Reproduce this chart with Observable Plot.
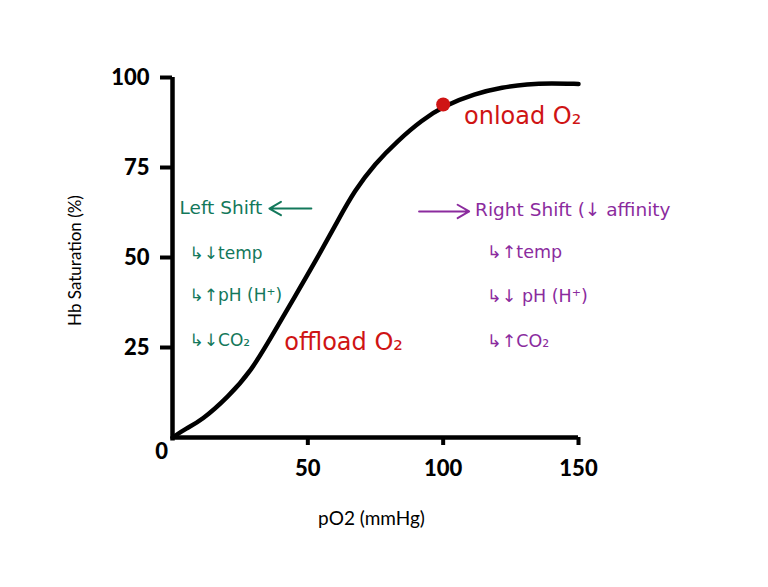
<!DOCTYPE html>
<html>
<head>
<meta charset="utf-8">
<script src="https://cdn.jsdelivr.net/npm/d3@7"></script>
<script src="https://cdn.jsdelivr.net/npm/@observablehq/plot@0.6"></script>
<style>
  html, body { margin: 0; padding: 0; background: #fff; }
  #chart svg { display: block; }
</style>
</head>
<body>
<div id="chart"></div>
<script>
// Oxygen–hemoglobin dissociation curve
const po2 = [0, 5, 10.7, 20.5, 29.2, 36.5, 45.1, 53.7, 61.1, 67.3, 74.7, 83.3, 92, 100.5, 111.6, 122, 131, 140, 150];
const saturation = [0, 2.5, 4.7, 11.2, 18.6, 27.9, 39, 50.1, 60.3, 68.6, 76, 82.5, 88.1, 92.2, 95.5, 97.3, 98.2, 98.4, 98.2];

const xTicks = [50, 100, 150];
const yTicks = [25, 50, 75, 100];

const onloadPoint = {x: 100, y: 92.5};

const leftText = ["Left Shift", "↳↓temp", "↳↑pH (H⁺)", "↳↓CO₂"];
const leftX = [2.6, 6.3, 6.3, 6.3];
const leftY = [63.6, 51.1, 39.4, 26.9];

const rightText = ["Right Shift (↓ affinity", "↳↑temp", "↳↓ pH (H⁺)", "↳↑CO₂"];
const rightX = [111.8, 116.2, 116.2, 116.2];
const rightY = [63.3, 51.4, 39.2, 26.7];

const redText = ["onload O₂", "offload O₂"];
const redX = [107.7, 41.3];
const redY = [89.2, 26.4];

const arrowsX1 = [51.3, 91.1];
const arrowsX2 = [35.8, 109.6];
const arrowsY = [63.6, 62.8];

const GREEN = "#13785b";
const PURPLE = "#8b2b9e";
const RED = "#cf1414";

const curve = po2.map((x, i) => ({x, y: saturation[i]}));
const left = leftText.map((t, i) => ({t, x: leftX[i], y: leftY[i], head: i === 0}));
const right = rightText.map((t, i) => ({t, x: rightX[i], y: rightY[i], head: i === 0}));
const red = redText.map((t, i) => ({t, x: redX[i], y: redY[i]}));
const arrows = arrowsX1.map((x1, i) => ({x1, x2: arrowsX2[i], y: arrowsY[i]}));

const NOTE_FONT = "'DejaVu Sans', sans-serif";

const chart = Plot.plot({
  width: 768,
  height: 587,
  marginLeft: 172,
  marginRight: 190,
  marginTop: 77,
  marginBottom: 150,
  style: {fontFamily: "Lato, sans-serif", background: "#fff", color: "#000"},
  x: {domain: [0, 150]},
  y: {domain: [0, 100]},
  marks: [
    Plot.axisY({ticks: yTicks, tickSize: 12, tickPadding: 11, strokeWidth: 4, fontSize: 22, fontWeight: 900, label: null}),
    Plot.axisX({ticks: xTicks, tickSize: 8, tickPadding: 15, strokeWidth: 4, fontSize: 22, fontWeight: 900, label: null}),
    Plot.ruleX([0], {y1: -1, y2: 100, strokeWidth: 4.5, stroke: "black"}),
    Plot.ruleY([0], {x1: 0, x2: 150, strokeWidth: 4.5, stroke: "black"}),
    Plot.text(["0"], {x: 0, y: 0, dx: -11, dy: 14, fontSize: 22, fontWeight: 900, fill: "black"}),
    Plot.text(["Hb Saturation (%)"], {frameAnchor: "left", textAnchor: "middle", dx: -97, dy: 3, rotate: -90, fontSize: 17, fill: "black"}),
    Plot.text(["pO2 (mmHg)"], {frameAnchor: "bottom", dx: -4, dy: 87, fontSize: 19, fill: "black"}),
    Plot.line(curve, {x: "x", y: "y", curve: "basis", stroke: "black", strokeWidth: 4.5, strokeLinecap: "round"}),
    Plot.dot([onloadPoint], {x: "x", y: "y", r: 7, fill: RED}),
    Plot.text(left.filter(d => d.head), {x: "x", y: "y", text: "t", textAnchor: "start", fill: GREEN, fontSize: 18.5, fontFamily: NOTE_FONT}),
    Plot.text(left.filter(d => !d.head), {x: "x", y: "y", text: "t", textAnchor: "start", fill: GREEN, fontSize: 17, fontFamily: NOTE_FONT}),
    Plot.text(right.filter(d => d.head), {x: "x", y: "y", text: "t", textAnchor: "start", fill: PURPLE, fontSize: 18.5, fontFamily: NOTE_FONT}),
    Plot.text(right.filter(d => !d.head), {x: "x", y: "y", text: "t", textAnchor: "start", fill: PURPLE, fontSize: 17.5, fontFamily: NOTE_FONT}),
    Plot.text(red, {x: "x", y: "y", text: "t", textAnchor: "start", fill: RED, fontSize: 24, fontFamily: NOTE_FONT}),
    Plot.arrow(arrows.slice(0, 1), {x1: "x1", x2: "x2", y1: "y", y2: "y", stroke: GREEN, strokeWidth: 2, headLength: 10}),
    Plot.arrow(arrows.slice(1), {x1: "x1", x2: "x2", y1: "y", y2: "y", stroke: PURPLE, strokeWidth: 2, headLength: 10})
  ]
});
document.getElementById("chart").append(chart);
</script>
</body>
</html>
